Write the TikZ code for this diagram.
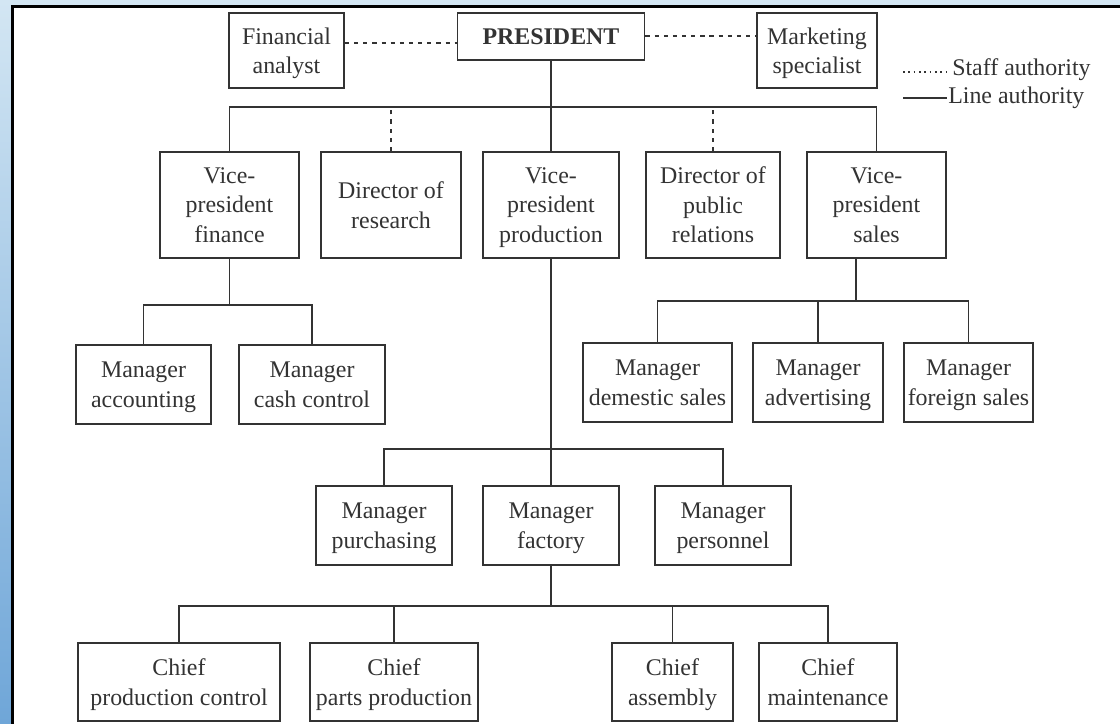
\documentclass[tikz,border=0pt]{standalone}
\usepackage{fontspec}
\setmainfont{Liberation Serif}
\definecolor{ink}{HTML}{333333}
\definecolor{frameA}{HTML}{D3E6F3}
\definecolor{frameB}{HTML}{6FA6D8}
\begin{document}
\begin{tikzpicture}[x=0.025cm, y=-0.025cm,
  unitbox/.style 2 args={draw=ink, line width=1.4pt, text=ink, align=center,
    inner sep=0pt, minimum width=#1*0.025cm, minimum height=#2*0.025cm,
    font=\fontsize{17}{21}\selectfont, text depth=0pt,
    execute at begin node={\rule{0pt}{12pt}}},
  solidlink/.style={draw=ink, line width=1.4pt},
  stafflink/.style={draw=ink, line width=1.1pt, dash pattern=on 3pt off 3.5pt},
  legendtext/.style={text=ink, inner sep=0pt, anchor=west, font=\fontsize{17}{21}\selectfont}]

% page and frame
\useasboundingbox (0,0) rectangle (1120,724);
\fill[white] (0,0) rectangle (1120,724);
\shade[top color=frameA, bottom color=frameB] (0,0) rectangle (11,724);
\fill[frameA] (0,0) rectangle (1120,5);
\draw[black, line width=2.2pt] (12.5,724) -- (12.5,6.5) -- (1120,6.5);

% top level
\node[unitbox={115}{75}] (fa)   at (286.5,50.5) {Financial\\analyst};
\node[unitbox={187}{47}, font=\fontsize{17}{21}\selectfont\bfseries] (pres) at (551,36.5) {PRESIDENT};
\node[unitbox={120}{75}] (ms)   at (817,50.5) {Marketing\\specialist};

% second level
\node[unitbox={139}{106}] (vpf) at (229.5,205) {Vice-\\president\\finance};
\node[unitbox={140}{106}] (dr)  at (391,205)   {Director of\\research};
\node[unitbox={136}{106}] (vpp) at (551,205)   {Vice-\\president\\production};
\node[unitbox={134}{106}] (dpr) at (713,205)   {Director of\\public\\relations};
\node[unitbox={139}{106}] (vps) at (876.5,205) {Vice-\\president\\sales};

% finance and sales managers
\node[unitbox={135}{79}] (macc) at (143.5,384.5) {Manager\\accounting};
\node[unitbox={146}{79}] (mcc)  at (312,384.5)   {Manager\\cash control};
\node[unitbox={149}{79}] (mds)  at (657.5,382.5) {Manager\\demestic sales};
\node[unitbox={130}{79}] (madv) at (818,382.5)   {Manager\\advertising};
\node[unitbox={129}{79}] (mfs)  at (968.5,382.5) {Manager\\foreign sales};

% production managers
\node[unitbox={136}{79}] (mpur) at (384,525.5) {Manager\\purchasing};
\node[unitbox={136}{79}] (mfac) at (551,525.5) {Manager\\factory};
\node[unitbox={136}{79}] (mper) at (723,525.5) {Manager\\personnel};

% chiefs
\node[unitbox={202}{78}] (cpc) at (179,682)   {Chief\\production control};
\node[unitbox={168}{78}] (cpp) at (394,682)   {Chief\\parts production};
\node[unitbox={121}{78}] (cas) at (672.5,682) {Chief\\assembly};
\node[unitbox={138}{78}] (cmt) at (828,682)   {Chief\\maintenance};

% bus coordinates
\coordinate (bus1) at (551,107);
\coordinate (bus2) at (229.5,305);
\coordinate (bus3) at (856,301);
\coordinate (bus4) at (551,449);
\coordinate (bus5) at (551,606);
\coordinate (lg1) at (903,72);
\coordinate (lg1e) at (948,72);
\coordinate (lg2) at (903,98);
\coordinate (lg2e) at (947,98);

% staff authority
\draw[stafflink] (fa.east |- 0,43) -- (pres.west |- 0,43);
\draw[stafflink] (pres.east |- 0,36) -- (ms.west |- 0,36);
\draw[stafflink] (dr.north) -- (dr.north |- bus1);
\draw[stafflink] (dpr.north) -- (dpr.north |- bus1);

% line authority from the president
\draw[solidlink] (pres.south) -- (vpp.north);
\draw[solidlink] (vpf.north) -- (vpf.north |- bus1) -- (vps.north |- bus1) -- (vps.north);

% finance
\draw[solidlink] (vpf.south) -- (bus2);
\draw[solidlink] (macc.north) -- (macc.north |- bus2) -- (mcc.north |- bus2) -- (mcc.north);

% sales
\draw[solidlink] (vps.south -| bus3) -- (bus3);
\draw[solidlink] (mds.north) -- (mds.north |- bus3) -- (mfs.north |- bus3) -- (mfs.north);
\draw[solidlink] (madv.north) -- (madv.north |- bus3);

% production
\draw[solidlink] (vpp.south) -- (mfac.north);
\draw[solidlink] (mpur.north) -- (mpur.north |- bus4) -- (mper.north |- bus4) -- (mper.north);

% factory
\draw[solidlink] (mfac.south) -- (bus5);
\draw[solidlink] (cpc.north) -- (cpc.north |- bus5) -- (cmt.north |- bus5) -- (cmt.north);
\draw[solidlink] (cpp.north) -- (cpp.north |- bus5);
\draw[solidlink] (cas.north) -- (cas.north |- bus5);

% legend
\draw[draw=ink, line width=1.3pt, dash pattern=on 1.2pt off 2.6pt] (lg1) -- (lg1e);
\node[legendtext] (lgs) at (952,70) {Staff authority};
\draw[solidlink, line width=1.2pt] (lg2) -- (lg2e);
\node[legendtext] (lgl) at (948,98) {Line authority};
\end{tikzpicture}
\end{document}
